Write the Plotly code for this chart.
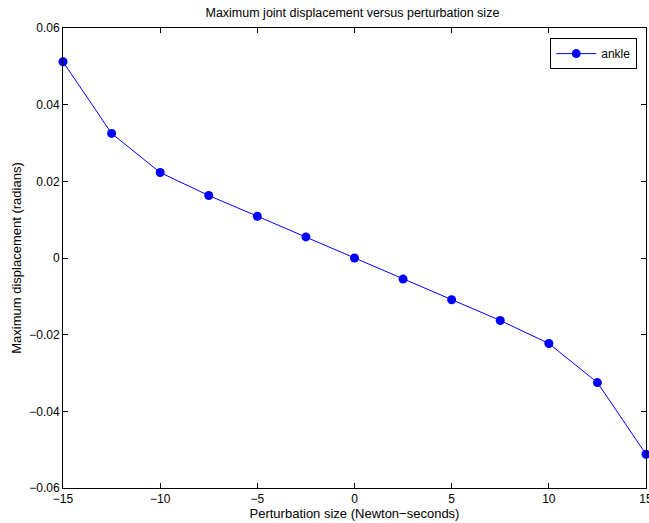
import plotly.graph_objects as go

perturbation = [-15, -12.5, -10, -7.5, -5, -2.5, 0, 2.5, 5, 7.5, 10, 12.5, 15]
ankle = [0.0512, 0.0325, 0.0223, 0.0163, 0.0109, 0.0055, 0.0, -0.0055, -0.0109, -0.0163, -0.0223, -0.0325, -0.0512]

xticks = [-15, -10, -5, 0, 5, 10, 15]
xtick_text = ["\u221215", "\u221210", "\u22125", "0", "5", "10", "15"]
yticks = [-0.06, -0.04, -0.02, 0, 0.02, 0.04, 0.06]
ytick_text = ["\u22120.06", "\u22120.04", "\u22120.02", "0", "0.02", "0.04", "0.06"]

FAM = "Liberation Sans, Arial, sans-serif"
tick_font = dict(family=FAM, size=12, color="black")
label_font = dict(family=FAM, size=13, color="black")

fig = go.Figure()
fig.add_trace(go.Scatter(
    x=perturbation, y=ankle, mode="lines+markers", name="ankle",
    line=dict(color="#0000ff", width=1),
    marker=dict(color="#0000ff", size=9),
    cliponaxis=False,
))

axis_common = dict(
    showline=True, linecolor="black", linewidth=1, mirror="ticks",
    ticks="inside", ticklen=5, tickcolor="black", showgrid=False, zeroline=False,
    tickfont=tick_font, ticklabeloverflow="allow", automargin=False,
)
fig.update_layout(
    width=649, height=523,
    margin=dict(l=63, r=3, t=28, b=35),
    paper_bgcolor="white", plot_bgcolor="white",
    font=tick_font,
    title=dict(text="Maximum joint displacement versus perturbation size",
               x=0.543, xanchor="center", y=0.985, yanchor="top",
               font=dict(family=FAM, size=12.5, color="black")),
    xaxis=dict(range=[-15, 15], tickvals=xticks, ticktext=xtick_text,
               title=dict(text="Perturbation size (Newton\u2212seconds)", standoff=0,
                          font=label_font), **axis_common),
    yaxis=dict(range=[-0.06, 0.06], tickvals=yticks, ticktext=ytick_text,
               title=dict(text="Maximum displacement (radians)", standoff=4,
                          font=label_font), **axis_common),
    showlegend=True,
    legend=dict(x=0.985, y=0.978, xanchor="right", yanchor="top",
                bordercolor="black", borderwidth=1, bgcolor="white",
                font=tick_font, itemwidth=40, tracegroupgap=0),
)
fig.write_html("out.html")
